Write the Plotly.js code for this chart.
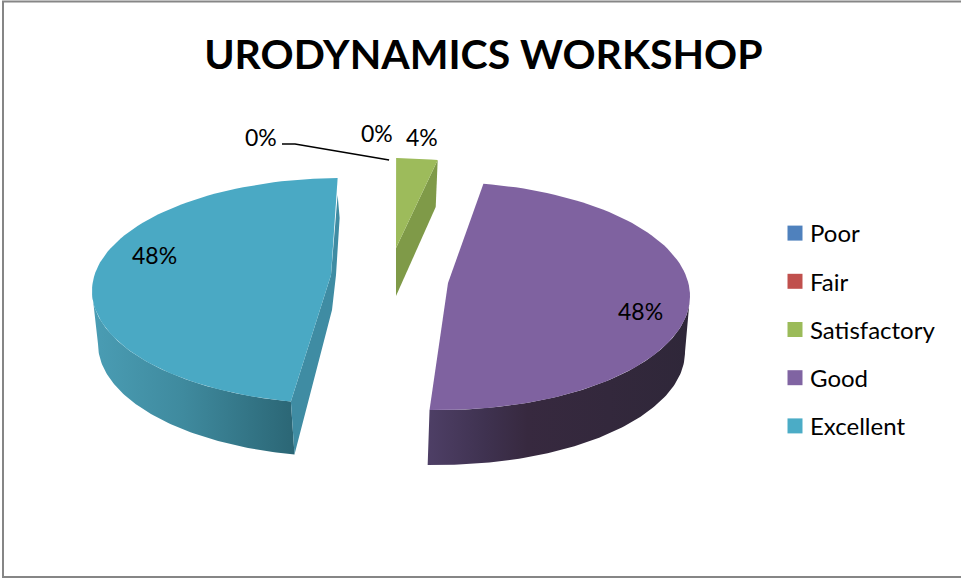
<!DOCTYPE html>
<html><head><meta charset="utf-8">
<script src="https://cdn.plot.ly/plotly-3.0.1.min.js"></script>
<style>html,body{margin:0;padding:0;background:#fff}</style></head>
<body><div id="chart" style="width:961px;height:578px"></div>
<script>
// ---- data ----
const chartTitle = 'URODYNAMICS WORKSHOP';
const categories = ['Poor', 'Fair', 'Satisfactory', 'Good', 'Excellent'];
const shares = [0, 0, 4, 48, 48];
const colors = ['#4F81BD', '#C0504D', '#9BBB59', '#8064A2', '#4BACC6'];

// ---- perspective projection of each exploded slice, in plot units ----
const total = shares.reduce((a, b) => a + b, 0);
const FONT = 'Lato, Carlito, Calibri, sans-serif';
const geom = {
  Satisfactory: {c: [390, 271], r: [250, 113], apex: [396, 248], d0: 1.4, d1: -3.4, drop: 48},
  Good: {c: [440, 296], r: [250, 114], apex: [448, 283], d0: -4.4, d1: -4.8, drop: 56, bc: [438, 352], br: [247, 113]},
  Excellent: {c: [342, 291], r: [250, 113], apex: [331, 275], d0: 4.6, d1: -1, drop: 53, bc: [345, 344], br: [247, 113]}
};
const rad = d => d * Math.PI / 180;
const onEllipse = (c, r, deg) => [c[0] + r[0] * Math.sin(rad(deg)), c[1] - r[1] * Math.cos(rad(deg))];
function arc(c, r, a, b) {
  const pts = [], n = 90;
  for (let i = 0; i <= n; i++) pts.push(onEllipse(c, r, a + (b - a) * i / n));
  return pts;
}
function poly(pts, color, extra) {
  return Object.assign({
    x: pts.map(p => p[0]), y: pts.map(p => p[1]), type: 'scatter', mode: 'lines',
    fill: 'toself', fillcolor: color, line: {width: 0, color: color}, hoverinfo: 'skip', showlegend: false
  }, extra || {});
}
// slice angles follow from the values, clockwise from 12 o'clock
let cum = 0;
const angle = {};
categories.forEach((k, i) => { angle[k] = [cum / total * 360, (cum + shares[i]) / total * 360]; cum += shares[i]; });

const traces = [];
// Excellent
{
  const g = geom.Excellent, [t0, t1] = angle.Excellent, a = t0 + g.d0, b = t1 + g.d1;
  const wall = arc(g.c, g.r, a, 270).concat(arc(g.bc, g.br, 270, a));
  traces.push(poly(wall, '#3f8ca2', {fillgradient: {type: 'horizontal', colorscale: [[0, '#4a9db4'], [0.45, '#3f8a9e'], [1, '#2b6675']]}}));
  const top = onEllipse(g.c, g.r, b), out = onEllipse(g.c, g.r, a), outB = onEllipse(g.bc, g.br, a);
  traces.push(poly([[top[0], top[1] + 17], [top[0] + 2, top[1] + 40], [g.apex[0] + 5, g.apex[1]], [g.apex[0] + 1, g.apex[1] + 35], outB, out, g.apex], '#3f8ca3'));
  traces.push(poly([g.apex].concat(arc(g.c, g.r, a, b)), '#4aa9c4'));
}
// Good
{
  const g = geom.Good, [t0, t1] = angle.Good, a = t0 + g.d0, b = t1 + g.d1;
  const wall = arc(g.c, g.r, 90, b).concat(arc(g.bc, g.br, b, 90));
  traces.push(poly(wall, '#33293f', {fillgradient: {type: 'horizontal', colorscale: [[0, '#4e3f66'], [0.22, '#3f3250'], [0.38, '#37293f'], [1, '#2f2739']]}}));
  traces.push(poly([g.apex].concat(arc(g.c, g.r, a, b)), '#7f62a0'));
}
// Satisfactory
{
  const g = geom.Satisfactory, [t0, t1] = angle.Satisfactory, a = t0 + g.d0, b = t1 + g.d1;
  const outer = onEllipse(g.c, g.r, b);
  traces.push(poly([outer, [outer[0] - 2, outer[1] + 47], [g.apex[0], g.apex[1] + g.drop], g.apex], '#7f9a48'));
  traces.push(poly([g.apex].concat(arc(g.c, g.r, a, b)), '#9dbb5b'));
}
// leader line from the 0% label to the slice it names
const g0 = onEllipse(geom.Satisfactory.c, geom.Satisfactory.r, geom.Satisfactory.d0);
traces.push({x: [282, 295, g0[0] - 7], y: [144, 144, g0[1] + 2], type: 'scatter', mode: 'lines',
  line: {color: '#000', width: 1.5}, hoverinfo: 'skip', showlegend: false});
// legend entries
categories.forEach((k, i) => traces.push({
  x: [null], y: [null], name: k, type: 'scatter', mode: 'markers', legendgroup: k,
  marker: {symbol: 'square', size: 15, color: colors[i]}, hoverinfo: 'skip'
}));

const pct = i => shares[i] + '%';
const labelAt = [[261, 137], [377, 133], [422, 137], [640, 311], [154, 255]];
const annotations = categories.map((k, i) => ({
  x: labelAt[i][0], y: labelAt[i][1], xref: 'x', yref: 'y', text: pct(i), showarrow: false,
  font: {family: FONT, size: 23, color: '#000'}
}));

const layout = {
  width: 961, height: 578, margin: {l: 0, r: 0, t: 0, b: 0},
  paper_bgcolor: '#fff', plot_bgcolor: '#fff',
  title: {text: '<b>' + chartTitle + '</b>', x: 0.503, xanchor: 'center', y: 0.905, yanchor: 'middle',
    font: {family: FONT, size: 41, color: '#000'}},
  xaxis: {range: [0, 961], visible: false, fixedrange: true},
  yaxis: {range: [578, 0], visible: false, fixedrange: true},
  legend: {x: 770 / 961, y: 1 - 211 / 578, xanchor: 'left', yanchor: 'top', traceorder: 'grouped', tracegroupgap: 14,
    font: {family: FONT, size: 24, color: '#000'}, bgcolor: 'rgba(0,0,0,0)'},
  shapes: [
    {type: 'line', xref: 'x', yref: 'y', x0: 3, x1: 3, y0: 1, y1: 578, line: {color: '#868686', width: 2}},
    {type: 'line', xref: 'x', yref: 'y', x0: 2, x1: 961, y0: 1.5, y1: 1.5, line: {color: '#868686', width: 2}},
    {type: 'line', xref: 'x', yref: 'y', x0: 2, x1: 961, y0: 577, y1: 577, line: {color: '#868686', width: 2}}
  ],
  annotations: annotations, showlegend: true
};
Plotly.newPlot('chart', traces, layout, {displayModeBar: false, staticPlot: true}).then(gd => {
  // the swatch sits closer to its text in the reference than Plotly's fixed item width allows
  gd.querySelectorAll('.legendsymbols').forEach(s => s.setAttribute('transform', 'translate(5,0)'));
});
</script></body></html>
